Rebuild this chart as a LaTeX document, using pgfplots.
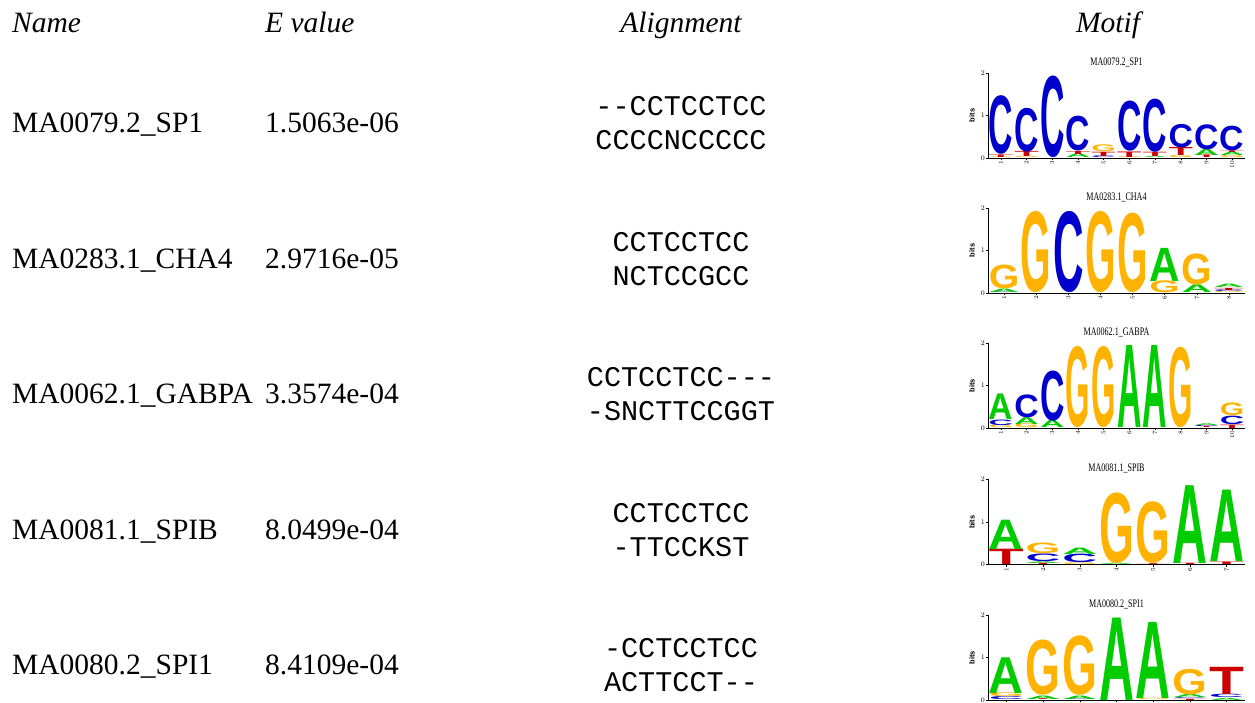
\documentclass[border=0pt]{standalone}
\usepackage{pgfplots}
\pgfplotsset{compat=1.18}
\usepackage{pgfplotstable}
\usepackage{graphicx}
\usepackage{fontspec}
\setmainfont{Liberation Serif}
\setmonofont{Liberation Mono}
\newfontfamily\logofont{Liberation Sans}

\definecolor{nucA}{RGB}{0,204,0}
\definecolor{nucC}{RGB}{0,0,204}
\definecolor{nucG}{RGB}{255,179,0}
\definecolor{nucT}{RGB}{204,0,0}

% columns: position, bottom of letter (bits), height (bits), letter
\pgfplotstableread{
p b h l
1 0 0.02 G
1 0.02 0.06 T
1 0.08 1.38 C
2 0 0.03 G
2 0.03 0.12 T
2 0.15 1.03 C
3 0 1.92 C
4 0 0.09 A
4 0.09 0.07 T
4 0.16 0.82 C
5 0 0.04 C
5 0.04 0.10 T
5 0.14 0.16 G
6 0 0.02 G
6 0.02 0.13 T
6 0.15 1.18 C
7 0 0.03 A
7 0.03 0.10 T
7 0.13 1.25 C
8 0 0.05 G
8 0.05 0.19 T
8 0.24 0.55 C
9 0 0.06 T
9 0.06 0.14 A
9 0.20 0.59 C
10 0 0.05 G
10 0.05 0.08 A
10 0.13 0.04 T
10 0.17 0.58 C
}\tabSPone

\pgfplotstableread{
p b h l
1 0 0.02 C
1 0.02 0.08 A
1 0.10 0.56 G
2 0 1.91 G
3 0 1.91 C
4 0 1.91 G
5 0 1.87 G
6 0 0.28 G
6 0.28 0.78 A
7 0 0.18 A
7 0.18 0.73 G
8 0 0.03 G
8 0.03 0.04 C
8 0.07 0.05 T
8 0.12 0.08 A
}\tabCHA

\pgfplotstableread{
p b h l
1 0 0.06 G
1 0.06 0.13 C
1 0.19 0.60 A
2 0 0.09 G
2 0.09 0.16 A
2 0.25 0.54 C
3 0 0.17 A
3 0.17 1.18 C
4 0 1.91 G
5 0 1.91 G
6 0 1.93 A
7 0 1.93 A
8 0 1.89 G
9 0 0.03 T
9 0.03 0.03 C
9 0.06 0.04 A
10 0 0.08 T
10 0.08 0.20 C
10 0.28 0.30 G
}\tabGABPA

\pgfplotstableread{
p b h l
1 0 0.36 T
1 0.36 0.69 A
2 0 0.03 T
2 0.03 0.04 A
2 0.07 0.18 C
2 0.25 0.25 G
3 0 0.04 G
3 0.04 0.20 C
3 0.24 0.15 A
4 0 0.03 A
4 0.03 1.66 G
5 0 0.02 T
5 0.02 1.45 G
6 0 0.03 T
6 0.03 1.83 A
7 0 0.06 T
7 0.06 1.68 A
}\tabSPIB

\pgfplotstableread{
p b h l
1 0 0.07 C
1 0.07 0.09 G
1 0.16 0.84 A
2 0 0.02 T
2 0.02 0.08 A
2 0.10 1.30 G
3 0 0.02 C
3 0.02 0.08 A
3 0.10 1.40 G
4 0 1.94 A
5 0 0.03 G
5 0.03 1.79 A
6 0 0.03 T
6 0.03 0.02 C
6 0.05 0.07 A
6 0.12 0.60 G
7 0 0.05 A
7 0.05 0.08 C
7 0.13 0.64 T
}\tabSPIone

\newcommand\logo[4]{%
\pgfmathsetmacro\LW{257/#2*0.95}%
\begin{axis}[
  scale only axis, width=257pt, height=85pt,
  at={(988pt,#4pt)}, anchor=south west,
  xmin=0.5, xmax=#2+0.5, ymin=0, ymax=2,
  axis x line*=bottom, axis y line*=left,
  axis line style={line width=0.6pt,-},
  xtick={1,...,#2}, ytick={0,1,2},
  tick style={black, line width=0.5pt},
  major tick length=2pt, tick align=outside,
  x tick label style={rotate=90, anchor=east, inner sep=1pt, font=\logofont\bfseries\fontsize{6.5}{7}\selectfont},
  y tick label style={inner sep=1pt, font=\logofont\bfseries\fontsize{7}{7}\selectfont},
  ylabel={bits},
  ylabel style={font=\logofont\bfseries\fontsize{7.5}{7.5}\selectfont, yshift=-5pt},
  title={\scalebox{0.7}[1]{\fontsize{11.5}{12}\selectfont #1}},
  title style={at={(0.5,1)}, anchor=south, yshift=-1pt, inner sep=1pt},
  clip=false,
]
\addplot[draw=none, mark=none,
  point meta=explicit symbolic,
  visualization depends on={\thisrow{h} \as \hh},
  nodes near coords={\pgfmathsetlengthmacro\LH{\hh*42.5pt}\edef\letter{\pgfplotspointmeta}\resizebox*{\LW pt}{\LH}{\color{nuc\letter}\logofont\bfseries\letter}},
  every node near coord/.style={anchor=south, inner sep=0pt, outer sep=0pt},
] table[x=p, y=b, meta=l] {#3};
\end{axis}}

\begin{document}
\begin{tikzpicture}
\useasboundingbox (0pt,0pt) rectangle (1255pt,702pt);
\fontsize{29.5}{35}\selectfont
% headers
\node[anchor=base west, inner sep=0pt] at (12pt,669pt) {\itshape Name};
\node[anchor=base west, inner sep=0pt] at (265pt,669pt) {\itshape E value};
\node[anchor=base, inner sep=0pt] at (681pt,669pt) {\itshape Alignment};
\node[anchor=base, inner sep=0pt] at (1108pt,669pt) {\itshape Motif};
% rows
\foreach \nm/\ev/\la/\lb/\yb in {
  MA0079.2\_SP1/1.5063e-06/{-}{-}CCTCCTCC/CCCCNCCCCC/569,
  MA0283.1\_CHA4/2.9716e-05/CCTCCTCC/NCTCCGCC/433,
  MA0062.1\_GABPA/3.3574e-04/CCTCCTCC{-}{-}{-}/{-}SNCTTCCGGT/298,
  MA0081.1\_SPIB/8.0499e-04/CCTCCTCC/{-}TTCCKST/163,
  MA0080.2\_SPI1/8.4109e-04/{-}CCTCCTCC/ACTTCCT{-}{-}/28}{
  \node[anchor=base west, inner sep=0pt] at (12pt,\yb pt) {\nm};
  \node[anchor=base west, inner sep=0pt] at (265pt,\yb pt) {\ev};
  \node[anchor=base, inner sep=0pt] at (681pt,\yb pt+17pt) {\fontsize{28.5}{30}\selectfont\ttfamily \la};
  \node[anchor=base, inner sep=0pt] at (681pt,\yb pt-17pt) {\fontsize{28.5}{30}\selectfont\ttfamily \lb};
}
\logo{MA0079.2\_SP1}{10}{\tabSPone}{544}
\logo{MA0283.1\_CHA4}{8}{\tabCHA}{409}
\logo{MA0062.1\_GABPA}{10}{\tabGABPA}{274}
\logo{MA0081.1\_SPIB}{7}{\tabSPIB}{137.5}
\logo{MA0080.2\_SPI1}{7}{\tabSPIone}{2}
\end{tikzpicture}
\end{document}
